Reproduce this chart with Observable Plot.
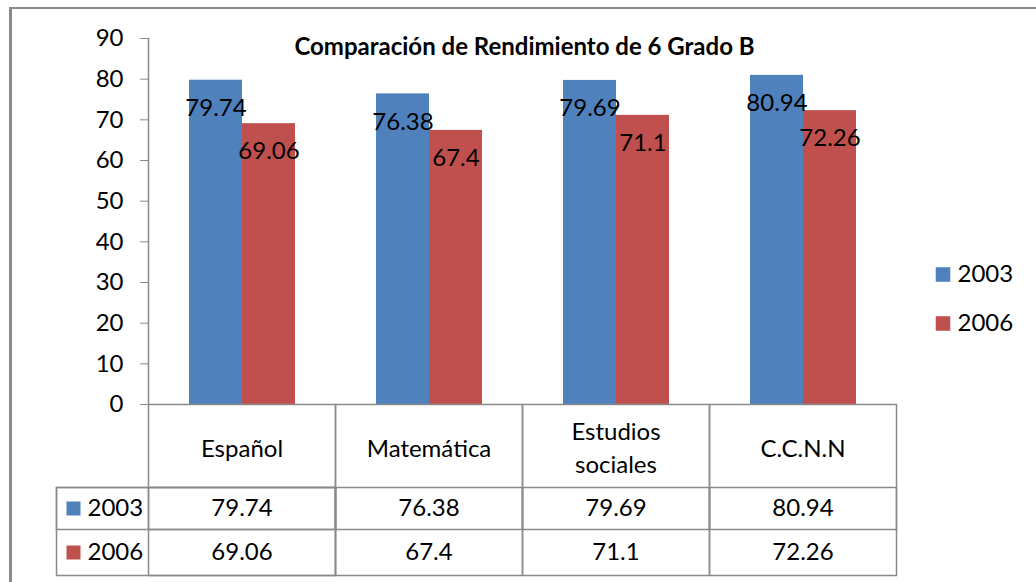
<!DOCTYPE html>
<html>
<head>
<meta charset="utf-8">
<script src="https://cdn.jsdelivr.net/npm/d3@7"></script>
<script src="https://cdn.jsdelivr.net/npm/@observablehq/plot@0.6"></script>
<style>
  html, body { margin: 0; padding: 0; background: #fff; }
  #wrap { position: relative; width: 1036px; height: 582px; overflow: hidden; font-family: Lato, sans-serif; }
  #border { position: absolute; left: 9px; top: 7px; width: 1100px; height: 700px; border-top: 2px solid #8a8a8a; border-left: 3px solid #8a8a8a; pointer-events: none; }
  #title { position: absolute; left: 0; width: 1049px; top: 31px; line-height: 30px; text-align: center; font: bold 24px Lato, sans-serif; color: #000; }
</style>
</head>
<body>
<div id="wrap">
  <div id="chart"></div>
  <div id="title">Comparación de Rendimiento de 6 Grado B</div>
  <div id="border"></div>
</div>
<script>
const subjects = ["Español", "Matemática", "Estudios sociales", "C.C.N.N"];
const series = ["2003", "2006"];
const values2003 = [79.74, 76.38, 79.69, 80.94];
const values2006 = [69.06, 67.4, 71.1, 72.26];
const seriesValues = [values2003, values2006];
const colors = ["#4F81BD", "#C0504D"];
const yTicks = [0, 10, 20, 30, 40, 50, 60, 70, 80, 90];

const rows = subjects.flatMap((s, i) => series.map((yr, j) => ({subject: s, year: yr, value: seriesValues[j][i]})));

const W = 1036, H = 582, mT = 38, mB = 178, mL = 147, mR = 139;
const plotH = H - mT - mB;
const gray = "#8a8a8a";
const headerH = 83, row1H = 42, row2H = 46;
const tableH = headerH + row1H + row2H;
const rowLabelW = 92;
const fs = 24;

const marks = [];
// bars
marks.push(Plot.barY(rows, {fx: "subject", x: "year", y: "value", fill: "year"}));
// value labels
marks.push(Plot.text(rows, {fx: "subject", x: "year", y: "value", text: d => String(d.value), dy: 28, fontSize: fs, fill: "#000"}));
// y axis
marks.push(Plot.axisY({ticks: yTicks, tickSize: 8, tickPadding: 17, fontSize: fs, stroke: gray, fill: "#000", label: null, tickFormat: d => String(d)}));
marks.push(Plot.frame({anchor: "left", facetAnchor: "left", stroke: gray, strokeWidth: 1.5}));
// table grid
const gridOpts = {stroke: gray, strokeWidth: 1.5};
marks.push(Plot.frame({...gridOpts, insetTop: plotH, insetBottom: -tableH}));
marks.push(Plot.frame({...gridOpts, insetTop: plotH + headerH, insetBottom: -(headerH + row1H)}));
marks.push(Plot.frame({...gridOpts, facetAnchor: "left", insetLeft: -rowLabelW, insetTop: plotH + headerH, insetBottom: -tableH}));
marks.push(Plot.frame({...gridOpts, facetAnchor: "left", insetLeft: -rowLabelW, insetTop: plotH + headerH, insetBottom: -(headerH + row1H)}));
// table header
marks.push(Plot.text(subjects, {fx: d => d, text: d => d, frameAnchor: "bottom", lineAnchor: "middle", dy: headerH / 2, lineWidth: 6.5, lineHeight: 1.38, fontSize: fs, fill: "#000"}));
// table rows + legend
const rowDy = [headerH + row1H / 2, headerH + row1H + row2H / 2];
const legendDy = [53, 102];
series.forEach((yr, j) => {
  marks.push(Plot.text(rows.filter(d => d.year === yr), {fx: "subject", text: d => String(d.value), frameAnchor: "bottom", lineAnchor: "middle", dy: rowDy[j], fontSize: fs, fill: "#000"}));
  marks.push(Plot.dot([yr], {facetAnchor: "left", frameAnchor: "bottom-left", dx: -75, dy: rowDy[j], symbol: "square", r: 7.9, fill: colors[j], stroke: null}));
  marks.push(Plot.text([yr], {facetAnchor: "left", frameAnchor: "bottom-left", lineAnchor: "middle", dx: -61, dy: rowDy[j], text: d => d, textAnchor: "start", fontSize: fs, fill: "#000"}));
  marks.push(Plot.dot([yr], {facetAnchor: "right", frameAnchor: "right", dx: 46.5, dy: legendDy[j], symbol: "square", r: 8.2, fill: colors[j], stroke: null}));
  marks.push(Plot.text([yr], {facetAnchor: "right", frameAnchor: "right", lineAnchor: "middle", dx: 61, dy: legendDy[j], text: d => d, textAnchor: "start", fontSize: fs, fill: "#000"}));
});

const chart = Plot.plot({
  width: W, height: H,
  marginTop: mT, marginBottom: mB, marginLeft: mL, marginRight: mR,
  style: {fontFamily: "Lato, sans-serif", fontSize: fs + "px", background: "transparent", overflow: "visible"},
  fx: {domain: subjects, padding: 0, axis: null},
  x: {domain: series, paddingInner: 0, paddingOuter: 0.736, axis: null},
  y: {domain: [0, 90], axis: null},
  color: {domain: series, range: colors},
  marks
});
document.getElementById("chart").appendChild(chart);
</script>
</body>
</html>
